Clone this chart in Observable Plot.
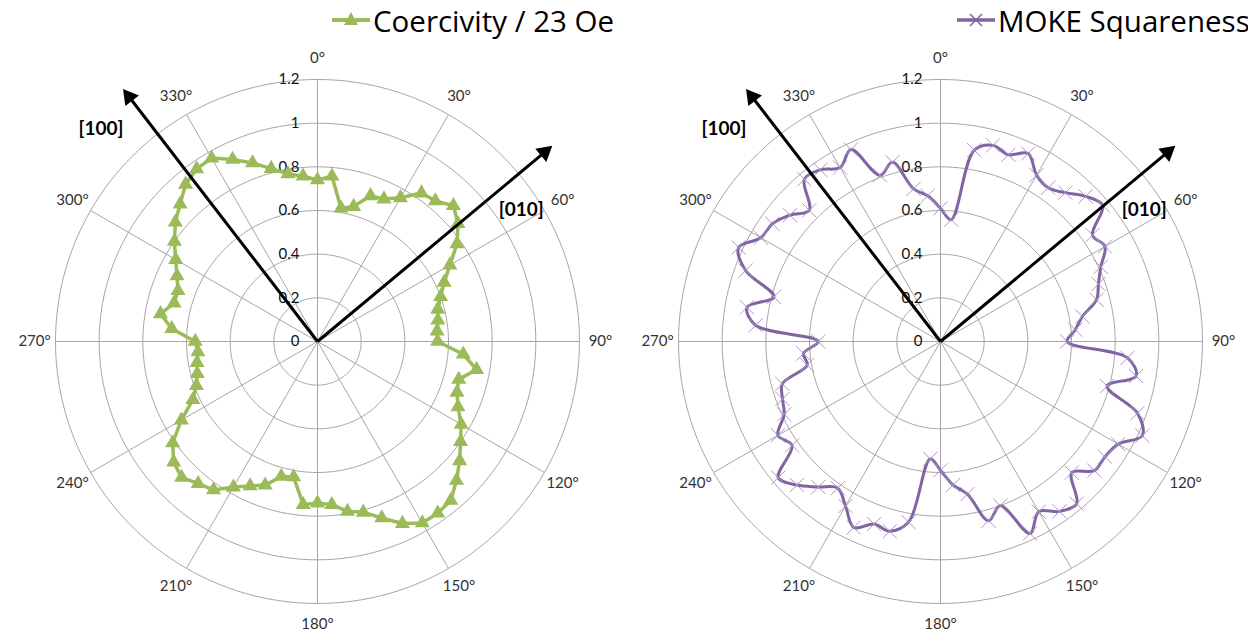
<!DOCTYPE html>
<html><head><meta charset="utf-8">
<script src="https://cdn.jsdelivr.net/npm/d3@7"></script>
<script src="https://cdn.jsdelivr.net/npm/@observablehq/plot@0.6"></script>
<style>
body{margin:0;background:#fff;overflow:hidden;font-family:Lato,"Open Sans",sans-serif;}
#wrap{position:relative;width:1248px;height:632px;}
.chart{position:absolute;top:40px;}
.legend{position:absolute;top:0px;height:40px;display:flex;align-items:center;font-family:"Open Sans",sans-serif;font-size:29.5px;color:#000;white-space:nowrap;}
.legend svg{margin-right:2px;}
</style></head><body>
<div id="wrap">
  <div class="legend" id="leg1" style="left:331px"></div>
  <div class="legend" id="leg2" style="left:956px"></div>
  <div class="chart" id="c1" style="left:0px"></div>
  <div class="chart" id="c2" style="left:624px"></div>
</div>
<script>
// ---- data ----
const angles = [0,5,10,15,20,25,30,35,40,45,50,55,60,65,70,75,80,85,90,95,100,105,110,115,120,125,130,135,140,145,150,155,160,165,170,175,180,185,190,195,200,205,210,215,220,225,230,235,240,245,250,255,260,265,270,275,280,285,290,295,300,305,310,315,320,325,330,335,340,345,350,355];
const coercivity = [0.74,0.76,0.62,0.64,0.71,0.72,0.76,0.83,0.84,0.88,0.84,0.78,0.70,0.64,0.60,0.57,0.56,0.55,0.55,0.67,0.74,0.67,0.68,0.71,0.76,0.80,0.85,0.90,0.95,0.96,0.96,0.92,0.86,0.81,0.79,0.75,0.74,0.75,0.63,0.64,0.70,0.73,0.77,0.83,0.85,0.88,0.86,0.81,0.72,0.63,0.59,0.57,0.56,0.55,0.56,0.67,0.73,0.68,0.68,0.71,0.75,0.80,0.85,0.89,0.94,0.965,0.97,0.92,0.87,0.82,0.78,0.76];
const squareness = [0.61,0.56,0.89,0.93,0.91,0.95,0.88,0.86,0.89,0.94,0.97,0.85,0.87,0.81,0.77,0.74,0.66,0.62,0.58,0.86,0.91,0.79,0.96,1.02,0.94,0.92,0.92,0.85,0.97,0.95,0.90,0.97,0.80,0.85,0.71,0.66,0.59,0.54,0.84,0.90,0.89,0.94,0.87,0.82,0.87,0.93,0.97,0.83,0.86,0.79,0.77,0.75,0.62,0.63,0.56,0.85,0.90,0.79,0.95,1.02,0.95,0.94,0.90,0.85,0.97,0.96,0.92,0.97,0.81,0.85,0.71,0.67];
const ringValues = [0,0.2,0.4,0.6,0.8,1.0,1.2];
const ringLabels = ["0","0.2","0.4","0.6","0.8","1","1.2"];
const spokeAngles = [0,30,60,90,120,150,180,210,240,270,300,330];
const spokeLabels = ["0°","30°","60°","90°","120°","150°","180°","210°","240°","270°","300°","330°"];
const axisNames = ["[100]","[010]"];
const axisAngles = [322.4, 50.2];
const axisLengths = [1.46, 1.40];
const seriesNames = ["Coercivity / 23 Oe","MOKE Squareness"];

// ---- helpers ----
const rad = a => a*Math.PI/180;
const px = (r,a) => r*Math.sin(rad(a));
const py = (r,a) => r*Math.cos(rad(a));
const GRID = "#a6a6a6";
const rMax = d3.max(ringValues);
const PX = 262 / rMax;            // pixels per unit
const HEAD = 10 / PX;             // arrow-head centre offset (units)

function chart(values, opts){
  const pts = angles.map((a,i)=>({a, v: values[i]}));
  const ringPts = ringValues.filter(v=>v>0).flatMap(v => d3.range(0,361,2).map(a=>({v,a})));
  const axes = axisNames.map((n,i)=>({n, a: axisAngles[i], len: axisLengths[i]}));
  const spokes = spokeAngles.map((a,i)=>({a, t: spokeLabels[i]}));
  const rings = ringValues.map((v,i)=>({v, t: ringLabels[i]}));
  return Plot.plot({
    width: 624, height: 592,
    style: {fontFamily: "Lato, 'Open Sans', sans-serif", background: "transparent"},
    x: {domain: [-rMax, rMax], range: [opts.cx-262, opts.cx+262], axis: null},
    y: {domain: [-rMax, rMax], range: [301+262, 301-262], axis: null},
    marks: [
      Plot.line(ringPts, {x: d=>px(d.v,d.a), y: d=>py(d.v,d.a), z: "v", stroke: GRID, strokeWidth: 1}),
      Plot.link(spokes, {x1: 0, y1: 0, x2: d=>px(rMax,d.a), y2: d=>py(rMax,d.a), stroke: GRID, strokeWidth: 1}),
      Plot.text(spokes, {x: d=>px(rMax*1.08,d.a), y: d=>py(rMax*1.08,d.a), text: "t", fontSize: 15, fill: "#333"}),
      Plot.text(rings, {x: 0, y: "v", text: "t", textAnchor: "end", dx: -18, fontSize: 15, fill: "#111"}),
      Plot.line(pts, {x: d=>px(d.v,d.a), y: d=>py(d.v,d.a), stroke: opts.color, strokeWidth: opts.lineWidth, curve: opts.curve}),
      Plot.dot(pts, {x: d=>px(d.v,d.a), y: d=>py(d.v,d.a), symbol: opts.symbol, r: opts.r,
        fill: opts.symbol === "triangle" ? opts.color : "none",
        stroke: opts.symbol === "triangle" ? "none" : opts.markColor, strokeWidth: 1}),
      Plot.link(axes, {x1: 0, y1: 0, x2: d=>px(d.len-1.3*HEAD,d.a), y2: d=>py(d.len-1.3*HEAD,d.a), stroke: "#000", strokeWidth: 3}),
      Plot.dot(axes, {x: d=>px(d.len-HEAD,d.a), y: d=>py(d.len-HEAD,d.a), symbol: "triangle", r: 6.4, rotate: "a", fill: "#000", stroke: "none"}),
      Plot.text(axes.filter(d=>d.n==="[100]"), {x: d=>px(d.len,d.a), y: d=>py(d.len,d.a), text: "n", dx: -22, dy: 40, fontSize: 19, fontWeight: "bold", fill: "#000"}),
      Plot.text(axes.filter(d=>d.n==="[010]"), {x: d=>px(d.len,d.a), y: d=>py(d.len,d.a), text: "n", dx: -31, dy: 64, fontSize: 19, fontWeight: "bold", fill: "#000"})
    ]
  });
}

document.getElementById("c1").append(chart(coercivity, {cx: 317, color: "#9BBB59", lineWidth: 3.5, curve: "linear-closed", symbol: "triangle", r: 5.6}));
document.getElementById("c2").append(chart(squareness, {cx: 316, color: "#8064A2", markColor: "#a898cc", lineWidth: 3, curve: "catmull-rom-closed", symbol: "times", r: 6.5}));

// legends
function legend(id, name, kind){
  const el = document.getElementById(id);
  const sw = kind === "tri"
    ? `<svg width="40" height="20"><line x1="1" y1="10" x2="39" y2="10" stroke="#9BBB59" stroke-width="4"/><path d="M20,2 L27,15 L13,15 Z" fill="#9BBB59"/></svg>`
    : `<svg width="40" height="20"><line x1="1" y1="10" x2="39" y2="10" stroke="#8064A2" stroke-width="3.5"/><path d="M14,4 L26,16 M26,4 L14,16" stroke="#8064A2" stroke-width="1.5"/></svg>`;
  el.innerHTML = sw + `<span>${name}</span>`;
}
legend("leg1", seriesNames[0], "tri");
legend("leg2", seriesNames[1], "x");
</script>
</body></html>
